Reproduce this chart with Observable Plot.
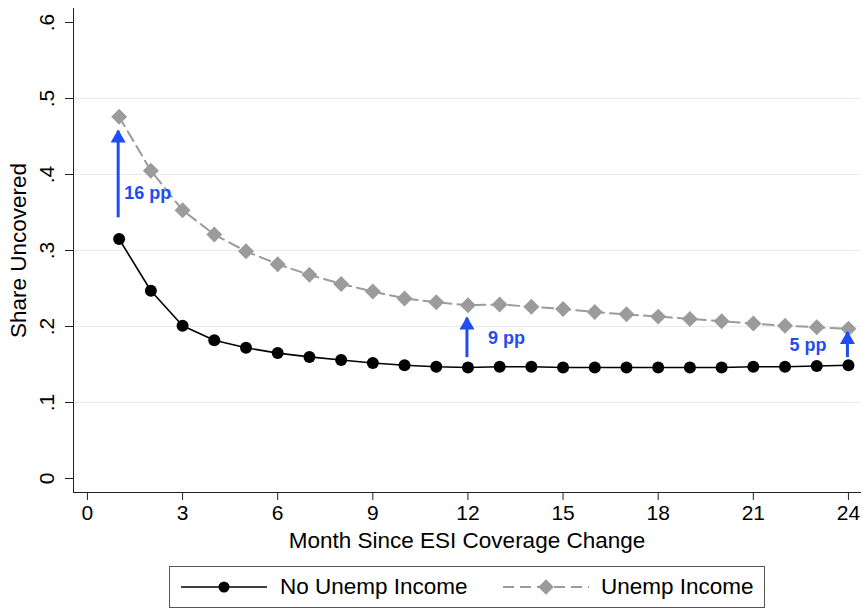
<!DOCTYPE html>
<html><head><meta charset="utf-8">
<script src="https://cdn.jsdelivr.net/npm/d3@7"></script>
<script src="https://cdn.jsdelivr.net/npm/@observablehq/plot@0.6"></script>
<style>
body{margin:0;background:#fff;font-family:"Liberation Sans",Arial,Helvetica,sans-serif;}
#wrap{position:relative;width:862px;height:608px;overflow:hidden;}
#chart{position:absolute;left:0;top:0;}
#legend{position:absolute;left:169px;top:566px;width:596px;height:42px;border:1px solid #555;box-sizing:border-box;font-size:22.5px;color:#000;}
#legend .it{position:absolute;top:0;height:40px;display:flex;align-items:center;}
#legend svg{display:block;}
</style></head><body>
<div id="wrap"><div id="chart"></div><div id="legend"></div></div>
<script>
const months = [1,2,3,4,5,6,7,8,9,10,11,12,13,14,15,16,17,18,19,20,21,22,23,24];
const noUnempIncome = [0.315,0.247,0.201,0.182,0.172,0.165,0.160,0.156,0.152,0.149,0.147,0.146,0.147,0.147,0.146,0.146,0.146,0.146,0.146,0.146,0.147,0.147,0.148,0.149];
const unempIncome = [0.476,0.405,0.353,0.321,0.299,0.282,0.268,0.256,0.246,0.237,0.232,0.228,0.229,0.226,0.223,0.219,0.216,0.213,0.210,0.207,0.204,0.201,0.199,0.197];
const seriesNames = ["No Unemp Income","Unemp Income"];
const xTicks = [0,3,6,9,12,15,18,21,24];
const yTicks = [0,0.1,0.2,0.3,0.4,0.5,0.6];
const gridTicks = [0.1,0.2,0.3,0.4,0.5];
const gapMonths = [1,12,24];
const gapFrom = [0.343,0.159,0.159];
const gapTo = [0.457,0.211,0.192];
const gapLabels = ["16 pp","9 pp","5 pp"];
const gapLabelY = [0.376,0.184,0.175];
const xTitle = "Month Since ESI Coverage Change";
const yTitle = "Share Uncovered";

const blue = "#1f4df2";
const gray = "#9b9b9b";
const rows1 = months.map((m,i)=>({m, v: noUnempIncome[i]}));
const rows2 = months.map((m,i)=>({m, v: unempIncome[i]}));
const gaps = gapMonths.map((m,i)=>({m, from: gapFrom[i], to: gapTo[i], label: gapLabels[i], ly: gapLabelY[i]}));
const fmt = d => d === 0 ? "0" : d3.format(".1f")(d).replace(/^0/, "");
const gapText = (i, opts) => Plot.text([gaps[i]], {x: "m", y: "ly", text: "label", fill: blue, fontWeight: "bold", fontSize: 18, ...opts});

const chart = Plot.plot({
  width: 862, height: 560,
  marginLeft: 73, marginRight: 2, marginTop: 8, marginBottom: 68,
  style: {fontFamily: '"Liberation Sans", Arial, Helvetica, sans-serif', color: "#000", background: "#fff"},
  x: {domain: [-0.44, 24.38]},
  y: {domain: [-0.0184, 0.6184]},
  marks: [
    Plot.gridY(gridTicks, {stroke: "#e3ecf0", strokeOpacity: 1, strokeWidth: 1.2}),
    Plot.axisX({ticks: xTicks, tickSize: 8, tickPadding: 5, fontSize: 21, label: null, stroke: "#222"}),
    Plot.axisY({ticks: yTicks, tickSize: 8, tickPadding: 12, tickRotate: -90, fontSize: 21, tickFormat: fmt, label: null, stroke: "#222"}),
    Plot.frame({anchor: "left", stroke: "#222"}),
    Plot.frame({anchor: "bottom", stroke: "#222"}),
    Plot.text([xTitle], {frameAnchor: "bottom", dy: 55, text: d => d, fontSize: 22.5}),
    Plot.text([yTitle], {frameAnchor: "left", dx: -55, rotate: -90, textAnchor: "middle", text: d => d, fontSize: 22.5}),
    Plot.line(rows2, {x: "m", y: "v", stroke: gray, strokeWidth: 2, strokeDasharray: "11,6"}),
    Plot.dot(rows2, {x: "m", y: "v", symbol: "diamond2", r: 7.2, fill: gray, stroke: "none"}),
    Plot.line(rows1, {x: "m", y: "v", stroke: "#000", strokeWidth: 1.6}),
    Plot.dot(rows1, {x: "m", y: "v", r: 6, fill: "#000", stroke: "none"}),
    Plot.ruleX(gaps, {x: "m", y1: "from", y2: "to", stroke: blue, strokeWidth: 3, dx: -1}),
    Plot.dot(gaps, {x: "m", y: "to", symbol: "triangle", r: 5.6, fill: blue, stroke: "none", dx: -1, dy: 7}),
    gapText(0, {textAnchor: "start", dx: 5}),
    gapText(1, {textAnchor: "start", dx: 20}),
    gapText(2, {textAnchor: "end", dx: -22}),
  ]
});
document.getElementById("chart").appendChild(chart);

// legend
const legend = d3.select("#legend");
const items = [
  {name: seriesNames[0], left: 11, textLeft: 110, color: "#000", dash: null, symbol: d3.symbolCircle, size: Math.PI*5.5*5.5, sw: 1.6},
  {name: seriesNames[1], left: 333, textLeft: 431, color: gray, dash: "11,6", symbol: d3.symbolDiamond2, size: Math.PI*7*7, sw: 2}
];
items.forEach(it => {
  const g = legend.append("div").attr("class","it").style("left", it.left+"px");
  const svg = g.append("svg").attr("width", 86).attr("height", 40);
  svg.append("line").attr("x1",0).attr("x2",86).attr("y1",20).attr("y2",20)
    .attr("stroke", it.color).attr("stroke-width", it.sw).attr("stroke-dasharray", it.dash);
  svg.append("path").attr("d", d3.symbol(it.symbol, it.size)()).attr("transform","translate(43,20)").attr("fill", it.color);
  legend.append("div").attr("class","it").style("left", it.textLeft+"px").text(it.name);
});
</script>
</body></html>
